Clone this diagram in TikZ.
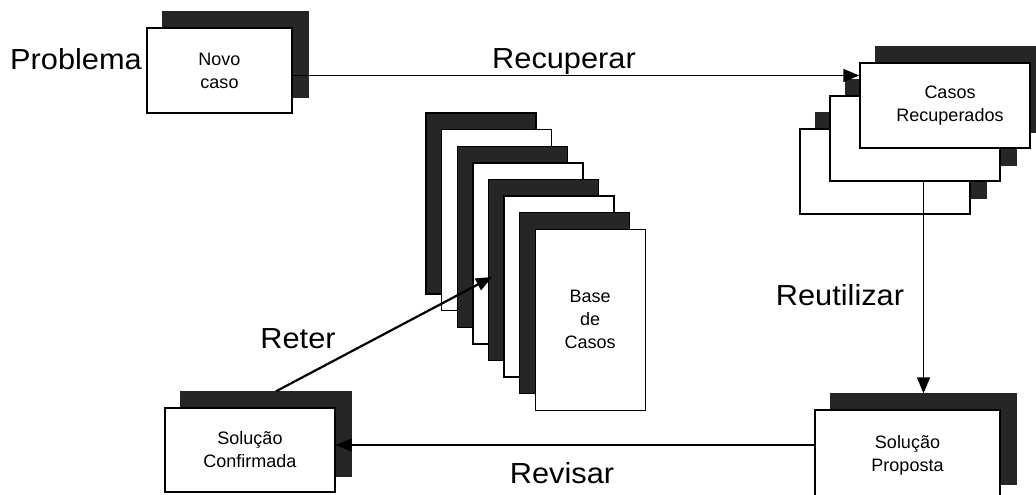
\documentclass[tikz,border=0pt]{standalone}
\usepackage{fontspec}
\setmainfont{Liberation Sans}
\newfontfamily\bigfont[FakeStretch=1.06]{Liberation Sans}
\usepackage{tikz}
\usetikzlibrary{arrows.meta,positioning}
\definecolor{ink}{HTML}{000000}
\definecolor{shadowink}{HTML}{262626}
\tikzset{
  card/.style={
    draw=ink,
    fill=white,
    line width=1.4pt,
    inner sep=0pt,
    align=center,
    text=ink,
    font=\fontsize{18}{23}\selectfont
  },
  cardshadow/.style={draw=shadowink, fill=shadowink, line width=1.4pt, inner sep=0pt},
  steplabel/.style={font=\bigfont\fontsize{29}{34}\selectfont, text=ink, anchor=base, inner sep=0pt},
  flowarrow/.style={-{Triangle[length=16pt,width=13pt]}, line width=1.4pt, draw=ink}
}

\begin{document}
\begin{tikzpicture}[x=1pt, y=-1pt]
  \useasboundingbox (0,0) rectangle (1036,495);
  \fill[white] (0,0) rectangle (1036,495);
  \clip (0,0) rectangle (1036,495);

  % new case
  \node[cardshadow, minimum width=145pt, minimum height=85pt] (novoshade) at (235.5,54.5) {};
  \node[card, minimum width=145pt, minimum height=85pt] (novo) at (219.5,70.5) {Novo\\caso};

  % retrieved cases
  \node[cardshadow, minimum width=170pt, minimum height=85pt] (casos3shade) at (901,155.5) {};
  \node[card, minimum width=170pt, minimum height=85pt] (casos3) at (885,171.5) {};
  \node[cardshadow, minimum width=170pt, minimum height=85pt] (casos2shade) at (931,122.5) {};
  \node[card, minimum width=170pt, minimum height=85pt] (casos2) at (915,138.5) {};
  \node[cardshadow, minimum width=170pt, minimum height=85pt] (casos1shade) at (961,89.5) {};
  \node[card, minimum width=170pt, minimum height=85pt] (casos1) at (945,105.5) {\hspace*{10pt}Casos\\\hspace*{10pt}Recuperados};

  % case base
  \foreach \i/\tone in {0/shadowink,1/white,2/shadowink,3/white,4/shadowink,5/white,6/shadowink}
    \node[card, fill=\tone, minimum width=110pt, minimum height=181pt] (base\i)
      at ({481+15.6*\i},{203.5+16.6*\i}) {};
  \node[card, minimum width=110pt, minimum height=181pt] (base7) at (590.2,319.7) {Base\\de\\Casos};

  % confirmed and proposed solutions
  \node[cardshadow, minimum width=170pt, minimum height=84pt] (confshade) at (266,434) {};
  \node[card, minimum width=170pt, minimum height=84pt] (confirm) at (250,450) {Solução\\Confirmada};
  \node[cardshadow, minimum width=185pt, minimum height=90pt] (propshade) at (923.5,439) {};
  \node[card, minimum width=185pt, minimum height=90pt] (proposta) at (907.5,455) {Solução\\Proposta};

  % cycle
  \coordinate[below=5pt of novo.east] (novoout);
  \coordinate[right=10pt of confshade.north] (reterout);
  \coordinate (reterin) at (492,277);
  \coordinate[above=5pt of confirm.east] (revisarin);

  \draw[flowarrow] (novoout) -- (novoout -| casos1.west);
  \draw[flowarrow] (propshade.north |- casos2.south) -- (propshade.north);
  \draw[flowarrow] (revisarin -| proposta.west) -- (revisarin);
  \draw[flowarrow, line width=2.2pt] (reterout) -- (reterin);

  \node[steplabel] (problema) at (76,70) {Problema};
  \node[steplabel] (recuperar) at (564,68) {Recuperar};
  \node[steplabel] (reutilizar) at (840,305) {Reutilizar};
  \node[steplabel] (reter) at (298,348) {Reter};
  \node[steplabel] (revisar) at (562,483) {Revisar};
\end{tikzpicture}
\end{document}
